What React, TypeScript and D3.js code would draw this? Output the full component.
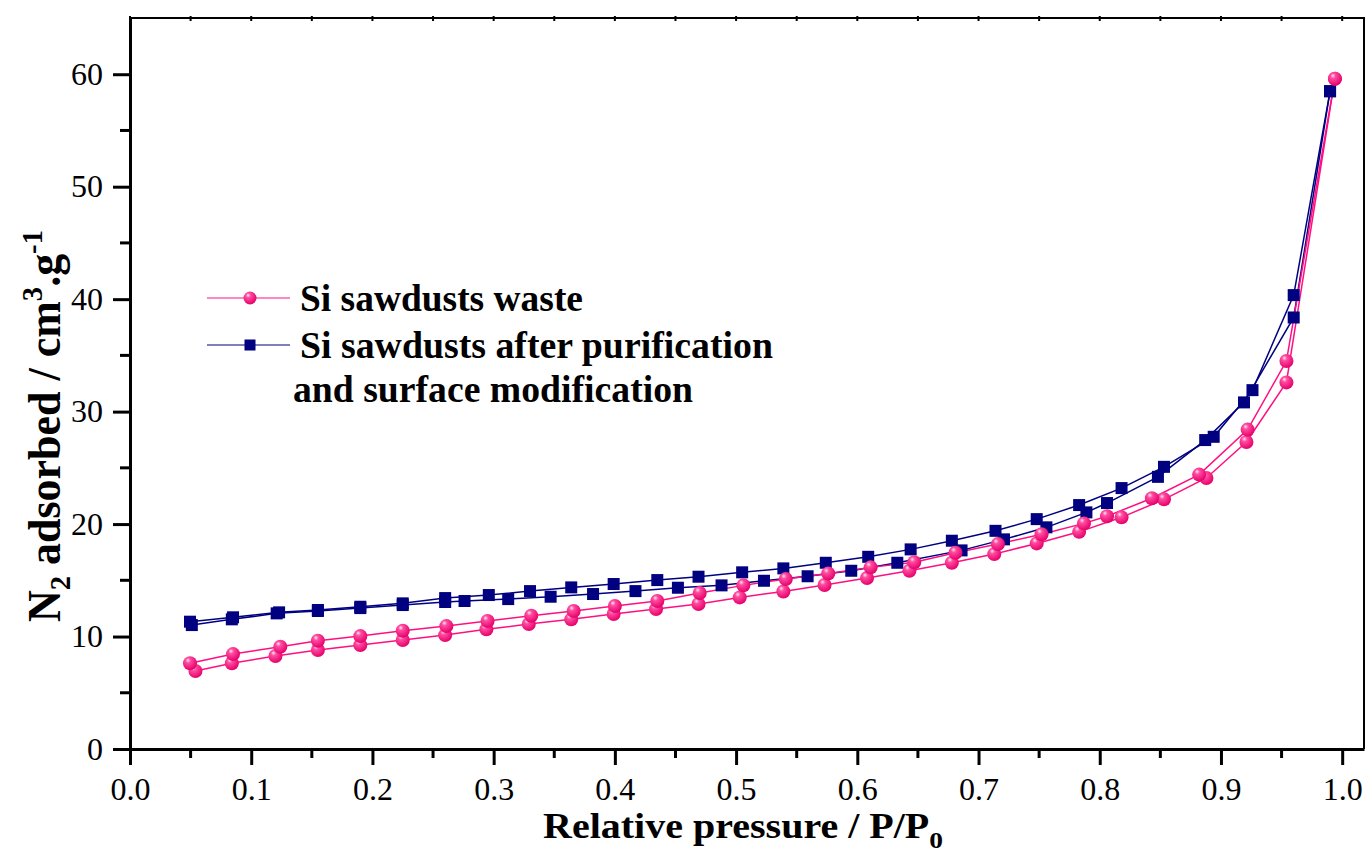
import React, { useEffect, useRef } from "react";
import * as d3 from "d3";

// N2 isotherms, values (P/P0, cm3/g)
const wasteAdsX = [0.054, 0.084, 0.12, 0.155, 0.19, 0.225, 0.26, 0.294, 0.329, 0.364, 0.399, 0.434, 0.469, 0.503, 0.539, 0.573, 0.608, 0.643, 0.678, 0.713, 0.748, 0.783, 0.818, 0.853, 0.888, 0.921, 0.954, 0.994];
const wasteAdsY = [6.93, 7.62, 8.27, 8.8, 9.24, 9.69, 10.13, 10.64, 11.11, 11.53, 12.0, 12.44, 12.89, 13.48, 14.01, 14.58, 15.2, 15.85, 16.56, 17.33, 18.28, 19.31, 20.6, 22.2, 24.1, 27.3, 32.6, 59.6];
const wasteDesX = [0.0495, 0.085, 0.124, 0.155, 0.19, 0.225, 0.261, 0.295, 0.331, 0.366, 0.4, 0.435, 0.47, 0.506, 0.541, 0.576, 0.611, 0.647, 0.681, 0.716, 0.752, 0.787, 0.806, 0.843, 0.882, 0.922, 0.954, 0.994];
const wasteDesY = [7.62, 8.44, 9.09, 9.63, 10.04, 10.52, 10.93, 11.38, 11.85, 12.27, 12.71, 13.16, 13.87, 14.55, 15.11, 15.61, 16.15, 16.6, 17.45, 18.22, 19.1, 20.06, 20.7, 22.3, 24.4, 28.4, 34.5, 59.6];

const pureAdsX = [0.051, 0.084, 0.121, 0.155, 0.19, 0.225, 0.26, 0.276, 0.312, 0.347, 0.382, 0.417, 0.452, 0.488, 0.523, 0.559, 0.595, 0.633, 0.686, 0.721, 0.756, 0.789, 0.806, 0.848, 0.887, 0.919, 0.96, 0.99];
const pureAdsY = [11.02, 11.53, 12.06, 12.27, 12.53, 12.8, 13.07, 13.16, 13.33, 13.54, 13.78, 14.04, 14.34, 14.55, 14.96, 15.36, 15.85, 16.56, 17.66, 18.64, 19.71, 21.04, 21.87, 24.2, 27.47, 30.82, 38.37, 58.49];
const pureDesX = [0.0495, 0.085, 0.123, 0.155, 0.19, 0.225, 0.26, 0.296, 0.33, 0.364, 0.399, 0.435, 0.469, 0.505, 0.539, 0.574, 0.609, 0.644, 0.678, 0.714, 0.748, 0.783, 0.818, 0.853, 0.894, 0.926, 0.96, 0.99];
const pureDesY = [11.32, 11.71, 12.15, 12.36, 12.65, 12.95, 13.42, 13.69, 14.04, 14.37, 14.67, 15.02, 15.32, 15.71, 16.06, 16.56, 17.09, 17.75, 18.52, 19.4, 20.44, 21.69, 23.2, 25.09, 27.76, 31.91, 40.36, 58.49];

const xMajorTicks = [0, 0.1, 0.2, 0.3, 0.4, 0.5, 0.6, 0.7, 0.8, 0.9, 1.0];
const xMinorTicks = [0.05, 0.15, 0.25, 0.35, 0.45, 0.55, 0.65, 0.75, 0.85, 0.95];
const yMajorTicks = [0, 10, 20, 30, 40, 50, 60];
const yMinorTicks = [5, 15, 25, 35, 45, 55];

const PINK = "#ff0f82";
const NAVY = "#000080";
const FONT = "'Liberation Serif', 'Times New Roman', serif";

const App = () => {
  const svgRef = useRef<SVGSVGElement>(null);

  useEffect(() => {
    const svg = d3.select(svgRef.current);
    svg.selectAll("*").remove();

    const width = 1366;
    const height = 854;
    svg.attr("width", width).attr("height", height);

    const x = d3.scaleLinear().domain([0, 1.018]).range([130, 1364]);
    const y = d3.scaleLinear().domain([0, 65]).range([749, 18]);

    // sphere gradient for the pink markers
    const defs = svg.append("defs");
    const grad = defs
      .append("radialGradient")
      .attr("id", "ball")
      .attr("cx", "40%")
      .attr("cy", "35%")
      .attr("r", "65%")
      .attr("fx", "35%")
      .attr("fy", "28%");
    grad.append("stop").attr("offset", "0%").attr("stop-color", "#ffe6f2");
    grad.append("stop").attr("offset", "28%").attr("stop-color", "#ff4da0");
    grad.append("stop").attr("offset", "100%").attr("stop-color", "#e6006b");

    // frame (top + right)
    svg
      .append("path")
      .attr("d", `M130,${y(65)}H${x(1.018)}V${y(0)}`)
      .attr("fill", "none")
      .attr("stroke", "#000")
      .attr("stroke-width", 2);

    // top ticks, small
    svg
      .append("g")
      .selectAll("line")
      .data([...xMajorTicks, ...xMinorTicks])
      .enter()
      .append("line")
      .attr("x1", (d) => x(d))
      .attr("x2", (d) => x(d))
      .attr("y1", y(65) - 2)
      .attr("y2", y(65) + 3)
      .attr("stroke", "#000")
      .attr("stroke-width", 2);

    // bottom axis
    const xAxis = svg
      .append("g")
      .attr("transform", `translate(0,${y(0)})`)
      .call(
        d3
          .axisBottom(x)
          .tickValues(xMajorTicks)
          .tickFormat(d3.format(".1f"))
          .tickSizeInner(16)
          .tickSizeOuter(0)
          .tickPadding(12)
      );
    xAxis.select(".domain").attr("stroke-width", 3);
    xAxis.selectAll(".tick line").attr("stroke-width", 3);
    xAxis
      .selectAll(".tick text")
      .attr("font-family", FONT)
      .attr("font-size", 32)
      .attr("fill", "#000");

    svg
      .append("g")
      .attr("transform", `translate(0,${y(0)})`)
      .selectAll("line")
      .data(xMinorTicks)
      .enter()
      .append("line")
      .attr("x1", (d) => x(d))
      .attr("x2", (d) => x(d))
      .attr("y1", 0)
      .attr("y2", 9)
      .attr("stroke", "#000")
      .attr("stroke-width", 3);

    // left axis
    const yAxis = svg
      .append("g")
      .attr("transform", `translate(${x(0)},0)`)
      .call(
        d3
          .axisLeft(y)
          .tickValues(yMajorTicks)
          .tickSizeInner(17)
          .tickSizeOuter(0)
          .tickPadding(10)
      );
    yAxis.select(".domain").attr("stroke-width", 3);
    yAxis.selectAll(".tick line").attr("stroke-width", 3);
    yAxis
      .selectAll(".tick text")
      .attr("font-family", FONT)
      .attr("font-size", 32)
      .attr("fill", "#000");

    svg
      .append("g")
      .attr("transform", `translate(${x(0)},0)`)
      .selectAll("line")
      .data(yMinorTicks)
      .enter()
      .append("line")
      .attr("x1", -10)
      .attr("x2", 0)
      .attr("y1", (d) => y(d))
      .attr("y2", (d) => y(d))
      .attr("stroke", "#000")
      .attr("stroke-width", 3);

    // lines
    const line = d3
      .line<[number, number]>()
      .x((d) => x(d[0]))
      .y((d) => y(d[1]));
    const zip = (xs: number[], ys: number[]) =>
      xs.map((v, i) => [v, ys[i]] as [number, number]);

    const branches = [
      { pts: zip(pureAdsX, pureAdsY), color: NAVY },
      { pts: zip(pureDesX, pureDesY), color: NAVY },
      { pts: zip(wasteAdsX, wasteAdsY), color: PINK },
      { pts: zip(wasteDesX, wasteDesY), color: PINK },
    ];
    branches.forEach((b) => {
      svg
        .append("path")
        .attr("d", line(b.pts))
        .attr("fill", "none")
        .attr("stroke", b.color)
        .attr("stroke-width", 1.5);
    });

    // square markers
    const sq = 12;
    svg
      .append("g")
      .selectAll("rect")
      .data([...zip(pureAdsX, pureAdsY), ...zip(pureDesX, pureDesY)])
      .enter()
      .append("rect")
      .attr("x", (d) => x(d[0]) - sq / 2)
      .attr("y", (d) => y(d[1]) - sq / 2)
      .attr("width", sq)
      .attr("height", sq)
      .attr("fill", NAVY);

    // sphere markers
    svg
      .append("g")
      .selectAll("circle")
      .data([...zip(wasteAdsX, wasteAdsY), ...zip(wasteDesX, wasteDesY)])
      .enter()
      .append("circle")
      .attr("cx", (d) => x(d[0]))
      .attr("cy", (d) => y(d[1]))
      .attr("r", 7)
      .attr("fill", "url(#ball)");

    // legend
    const lg = svg.append("g");
    lg.append("line")
      .attr("x1", 207).attr("x2", 290).attr("y1", 298).attr("y2", 298)
      .attr("stroke", PINK).attr("stroke-width", 1.2);
    lg.append("circle").attr("cx", 250).attr("cy", 298).attr("r", 6.5).attr("fill", "url(#ball)");
    lg.append("line")
      .attr("x1", 207).attr("x2", 290).attr("y1", 345).attr("y2", 345)
      .attr("stroke", NAVY).attr("stroke-width", 1.2);
    lg.append("rect").attr("x", 244.5).attr("y", 339.5).attr("width", 11).attr("height", 11).attr("fill", NAVY);

    const legendText = [
      { t: "Si sawdusts waste", x: 300, y: 311, len: 283 },
      { t: "Si sawdusts after purification", x: 300, y: 358, len: 473 },
      { t: "and surface modification", x: 293, y: 402, len: 400 },
    ];
    legendText.forEach((l) => {
      lg.append("text")
        .attr("x", l.x)
        .attr("y", l.y)
        .attr("font-family", FONT)
        .attr("font-weight", "bold")
        .attr("font-size", 37)
        .attr("textLength", l.len)
        .attr("lengthAdjust", "spacingAndGlyphs")
        .text(l.t);
    });

    // x title
    const xt = svg
      .append("text")
      .attr("x", 543)
      .attr("y", 838)
      .attr("font-family", FONT)
      .attr("font-weight", "bold")
      .attr("font-size", 35)
      .attr("textLength", 400)
      .attr("lengthAdjust", "spacingAndGlyphs");
    xt.append("tspan").text("Relative pressure / P/P");
    xt.append("tspan").attr("font-size", 24).attr("dy", 10).text("0");

    // y title
    const yt = svg
      .append("text")
      .attr("transform", "translate(60,622) rotate(-90)")
      .attr("font-family", FONT)
      .attr("font-weight", "bold")
      .attr("font-size", 46)
      .attr("textLength", 392)
      .attr("lengthAdjust", "spacingAndGlyphs");
    yt.append("tspan").text("N");
    yt.append("tspan").attr("font-size", 30).attr("dy", 10).text("2");
    yt.append("tspan").attr("dy", -10).text(" adsorbed / cm");
    yt.append("tspan").attr("font-size", 30).attr("dy", -18).text("3");
    yt.append("tspan").attr("dy", 18).text(".g");
    yt.append("tspan").attr("font-size", 30).attr("dy", -18).text("-1");
  }, []);

  return (
    <div style={{ position: "absolute", left: 0, top: 0 }}>
      <svg ref={svgRef}></svg>
    </div>
  );
};

export default App;
